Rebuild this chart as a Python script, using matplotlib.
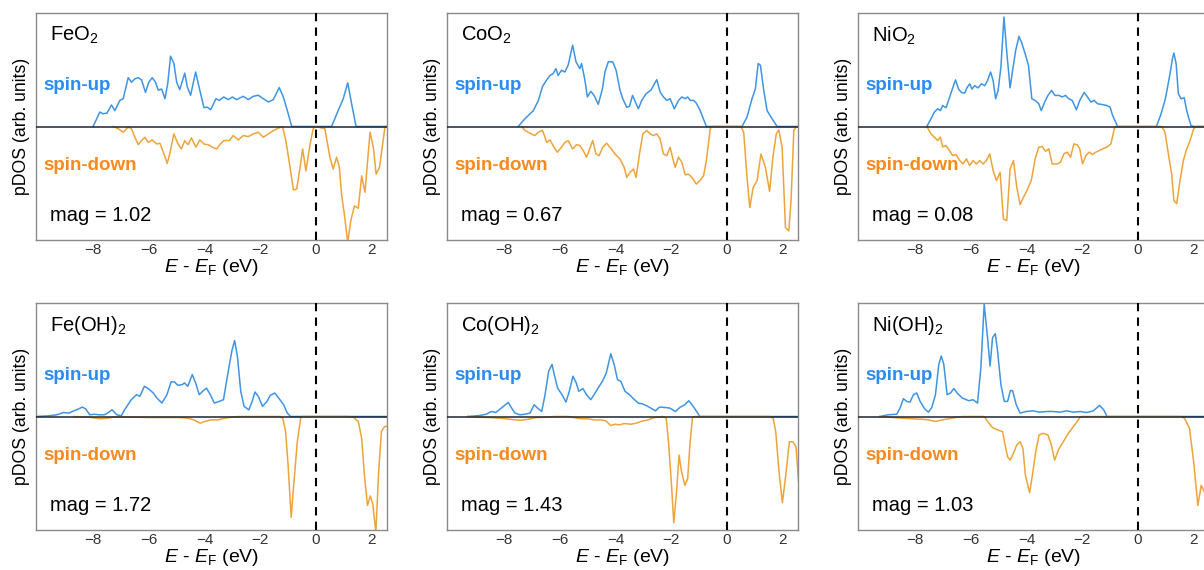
import matplotlib
matplotlib.use("Agg")
import matplotlib.pyplot as plt
import numpy as np

plt.rcParams['font.family'] = ['Liberation Sans', 'DejaVu Sans']
plt.rcParams['mathtext.fontset'] = 'custom'
plt.rcParams['mathtext.rm'] = 'Liberation Sans'
plt.rcParams['mathtext.it'] = 'Liberation Sans:italic'

# (E - E_F in eV, pDOS in arb. units), spin-down stored as negative values
feo2_up = [(-8.0, 0), (-7.76, 0.127), (-7.64, 0.112), (-7.5, 0.118), (-7.34, 0.19), (-7.22, 0.14),
           (-7.04, 0.23), (-6.92, 0.245), (-6.74, 0.43), (-6.62, 0.39), (-6.5, 0.42), (-6.38, 0.43),
           (-6.26, 0.41), (-6.12, 0.30), (-6.0, 0.39), (-5.88, 0.43), (-5.76, 0.39), (-5.66, 0.32),
           (-5.54, 0.33), (-5.42, 0.245), (-5.32, 0.38), (-5.22, 0.62), (-5.1, 0.556), (-5.0, 0.39),
           (-4.89, 0.325), (-4.71, 0.47), (-4.62, 0.35), (-4.5, 0.275), (-4.32, 0.48), (-4.17, 0.32),
           (-4.02, 0.166), (-3.9, 0.17), (-3.78, 0.148), (-3.59, 0.245), (-3.47, 0.23), (-3.31, 0.26),
           (-3.15, 0.237), (-3.0, 0.26), (-2.85, 0.237), (-2.61, 0.266), (-2.43, 0.237), (-2.25, 0.266),
           (-2.07, 0.275), (-1.89, 0.245), (-1.71, 0.216), (-1.53, 0.237), (-1.32, 0.343), (-1.17, 0.26),
           (-1.03, 0.142), (-0.87, 0), (0.56, 0), (0.8, 0.142), (0.98, 0.245), (1.14, 0.385),
           (1.28, 0.2), (1.44, 0), (2.6, 0)]
feo2_dn = [(-7.28, 0), (-7.1, -0.02), (-6.92, -0.05), (-6.74, -0.006), (-6.62, -0.02), (-6.5, -0.095),
           (-6.38, -0.16), (-6.26, -0.124), (-6.14, -0.095), (-6.02, -0.14), (-5.88, -0.118),
           (-5.72, -0.154), (-5.6, -0.148), (-5.48, -0.228), (-5.34, -0.325), (-5.25, -0.243),
           (-5.1, -0.065), (-4.95, -0.154), (-4.83, -0.198), (-4.71, -0.124), (-4.59, -0.16),
           (-4.47, -0.1), (-4.31, -0.183), (-4.17, -0.118), (-4.02, -0.154), (-3.87, -0.16),
           (-3.71, -0.183), (-3.57, -0.198), (-3.45, -0.16), (-3.31, -0.124), (-3.11, -0.124),
           (-2.97, -0.08), (-2.79, -0.118), (-2.61, -0.08), (-2.43, -0.089), (-2.25, -0.065),
           (-2.07, -0.05), (-1.89, -0.095), (-1.71, -0.065), (-1.53, -0.036), (-1.35, -0.015),
           (-1.2, 0), (-1.08, -0.124), (-0.93, -0.36), (-0.81, -0.56), (-0.69, -0.55), (-0.57, -0.36),
           (-0.48, -0.198), (-0.36, -0.39), (-0.22, -0.17), (-0.1, -0.02), (0.0, 0), (0.32, -0.02),
           (0.5, -0.27), (0.62, -0.375), (0.74, -0.27), (0.84, -0.36), (0.92, -0.6), (1.02, -0.775),
           (1.14, -1.02), (1.25, -0.83), (1.38, -0.7), (1.52, -0.72), (1.64, -0.435), (1.76, -0.58),
           (1.94, -0.05), (2.06, -0.183), (2.16, -0.42), (2.28, -0.36), (2.48, 0), (2.6, 0)]

coo2_up = [(-7.49, 0), (-7.31, 0.053), (-7.13, 0.097), (-6.95, 0.14), (-6.77, 0.23), (-6.62, 0.354),
           (-6.47, 0.41), (-6.35, 0.45), (-6.24, 0.466), (-6.14, 0.51), (-6.06, 0.45), (-5.94, 0.496),
           (-5.82, 0.48), (-5.7, 0.54), (-5.54, 0.717), (-5.42, 0.57), (-5.28, 0.51), (-5.22, 0.555),
           (-5.1, 0.41), (-5.01, 0.26), (-4.89, 0.31), (-4.77, 0.274), (-4.62, 0.195), (-4.47, 0.333),
           (-4.38, 0.48), (-4.26, 0.57), (-4.1, 0.57), (-3.98, 0.496), (-3.84, 0.32), (-3.74, 0.245),
           (-3.6, 0.17), (-3.5, 0.177), (-3.39, 0.274), (-3.26, 0.2), (-3.18, 0.156), (-3.06, 0.23),
           (-2.9, 0.29), (-2.73, 0.32), (-2.52, 0.413), (-2.4, 0.304), (-2.28, 0.26), (-2.16, 0.23),
           (-2.04, 0.245), (-1.89, 0.156), (-1.74, 0.23), (-1.62, 0.26), (-1.5, 0.245), (-1.41, 0.26),
           (-1.32, 0.23), (-1.2, 0.23), (-1.1, 0.206), (-0.96, 0.14), (-0.74, 0), (0.54, 0),
           (0.72, 0.083), (0.9, 0.245), (1.02, 0.333), (1.12, 0.555), (1.2, 0.54), (1.32, 0.32),
           (1.44, 0.14), (1.62, 0.068), (1.8, 0), (2.6, 0)]
coo2_dn = [(-7.37, 0), (-7.25, -0.035), (-7.07, -0.06), (-6.9, -0.08), (-6.77, -0.05), (-6.62, -0.035),
           (-6.47, -0.14), (-6.35, -0.118), (-6.24, -0.17), (-6.09, -0.227), (-5.94, -0.183),
           (-5.82, -0.14), (-5.7, -0.124), (-5.54, -0.198), (-5.4, -0.16), (-5.28, -0.168),
           (-5.16, -0.212), (-5.04, -0.27), (-4.95, -0.212), (-4.82, -0.124), (-4.7, -0.242),
           (-4.59, -0.257), (-4.46, -0.183), (-4.32, -0.147), (-4.2, -0.183), (-4.02, -0.242),
           (-3.84, -0.286), (-3.69, -0.36), (-3.6, -0.448), (-3.48, -0.404), (-3.36, -0.375),
           (-3.26, -0.448), (-3.14, -0.242), (-3.02, -0.065), (-2.88, -0.035), (-2.76, -0.065),
           (-2.64, -0.08), (-2.52, -0.065), (-2.4, -0.109), (-2.28, -0.242), (-2.16, -0.257),
           (-2.04, -0.183), (-1.94, -0.286), (-1.86, -0.36), (-1.74, -0.27), (-1.62, -0.316),
           (-1.5, -0.425), (-1.38, -0.42), (-1.26, -0.448), (-1.1, -0.507), (-0.98, -0.48),
           (-0.84, -0.434), (-0.74, -0.3), (-0.6, -0.02), (-0.54, 0), (0.5, 0), (0.6, -0.05),
           (0.72, -0.448), (0.82, -0.714), (0.94, -0.537), (1.08, -0.478), (1.22, -0.242),
           (1.38, -0.36), (1.53, -0.572), (1.65, -0.27), (1.77, -0.065), (1.86, -0.03), (1.98, -0.183),
           (2.1, -0.89), (2.22, -0.92), (2.3, -0.655), (2.4, -0.035), (2.5, 0), (2.6, 0)]

nio2_up = [(-7.58, 0), (-7.43, 0.068), (-7.31, 0.126), (-7.19, 0.156), (-7.09, 0.14), (-7.01, 0.185),
           (-6.89, 0.165), (-6.8, 0.23), (-6.68, 0.318), (-6.55, 0.41), (-6.44, 0.33), (-6.34, 0.3),
           (-6.22, 0.294), (-6.14, 0.34), (-6.04, 0.376), (-5.96, 0.33), (-5.86, 0.36), (-5.74, 0.34),
           (-5.62, 0.376), (-5.5, 0.36), (-5.4, 0.405), (-5.29, 0.48), (-5.2, 0.405), (-5.11, 0.244),
           (-5.02, 0.318), (-4.92, 0.524), (-4.81, 0.965), (-4.71, 0.656), (-4.59, 0.34), (-4.5, 0.494),
           (-4.39, 0.67), (-4.27, 0.794), (-4.17, 0.735), (-4.05, 0.64), (-3.93, 0.538), (-3.81, 0.244),
           (-3.69, 0.23), (-3.56, 0.2), (-3.47, 0.14), (-3.35, 0.215), (-3.23, 0.274), (-3.1, 0.318),
           (-2.98, 0.274), (-2.84, 0.274), (-2.72, 0.26), (-2.6, 0.274), (-2.48, 0.244), (-2.36, 0.23),
           (-2.21, 0.147), (-2.09, 0.23), (-1.93, 0.3), (-1.81, 0.26), (-1.69, 0.215), (-1.57, 0.23),
           (-1.45, 0.2), (-1.29, 0.194), (-1.12, 0.185), (-1.0, 0.17), (-0.91, 0.097), (-0.73, 0),
           (0.66, 0), (0.81, 0.097), (0.97, 0.23), (1.05, 0.33), (1.15, 0.465), (1.24, 0.6),
           (1.29, 0.647), (1.37, 0.553), (1.45, 0.288), (1.55, 0.244), (1.66, 0.253), (1.75, 0.14),
           (1.9, 0.009), (2.0, 0), (2.7, 0)]
nio2_dn = [(-7.58, 0), (-7.43, -0.065), (-7.31, -0.094), (-7.19, -0.124), (-7.09, -0.094), (-7.01, -0.18),
           (-6.89, -0.168), (-6.77, -0.212), (-6.65, -0.256), (-6.53, -0.247), (-6.4, -0.3),
           (-6.28, -0.33), (-6.16, -0.285), (-6.04, -0.344), (-5.92, -0.3), (-5.8, -0.33), (-5.68, -0.3),
           (-5.56, -0.33), (-5.44, -0.3), (-5.32, -0.241), (-5.2, -0.388), (-5.08, -0.476),
           (-4.95, -0.403), (-4.83, -0.815), (-4.71, -0.83), (-4.59, -0.374), (-4.47, -0.3),
           (-4.35, -0.535), (-4.23, -0.688), (-4.11, -0.624), (-3.99, -0.565), (-3.83, -0.476),
           (-3.69, -0.285), (-3.56, -0.182), (-3.44, -0.176), (-3.32, -0.218), (-3.2, -0.197),
           (-3.08, -0.33), (-2.9, -0.33), (-2.78, -0.315), (-2.66, -0.241), (-2.54, -0.226),
           (-2.42, -0.27), (-2.3, -0.153), (-2.18, -0.162), (-2.09, -0.197), (-1.99, -0.33),
           (-1.87, -0.256), (-1.75, -0.226), (-1.63, -0.247), (-1.51, -0.226), (-1.39, -0.212),
           (-1.27, -0.197), (-1.12, -0.182), (-0.97, -0.153), (-0.85, -0.02), (-0.79, 0), (0.85, 0),
           (0.97, -0.05), (1.09, -0.241), (1.21, -0.418), (1.29, -0.653), (1.39, -0.68), (1.51, -0.476),
           (1.63, -0.3), (1.73, -0.212), (1.87, -0.124), (2.0, -0.02), (2.09, 0), (2.7, 0)]

feoh2_up = [(-10.1, 0), (-9.6, 0.006), (-9.3, 0.015), (-9.06, 0.035), (-8.87, 0.03), (-8.69, 0.05),
            (-8.51, 0.068), (-8.39, 0.083), (-8.27, 0.068), (-8.12, 0.015), (-7.96, 0.02), (-7.78, 0.015),
            (-7.6, 0.015), (-7.48, 0.03), (-7.32, 0.059), (-7.15, 0.015), (-6.99, 0.006), (-6.87, 0.059),
            (-6.75, 0.104), (-6.63, 0.148), (-6.44, 0.192), (-6.32, 0.178), (-6.16, 0.266),
            (-6.02, 0.246), (-5.84, 0.207), (-5.71, 0.163), (-5.53, 0.118), (-5.35, 0.192),
            (-5.2, 0.305), (-5.08, 0.305), (-4.96, 0.275), (-4.8, 0.281), (-4.72, 0.296), (-4.6, 0.266),
            (-4.44, 0.37), (-4.32, 0.296), (-4.19, 0.192), (-4.07, 0.222), (-3.93, 0.25), (-3.79, 0.192),
            (-3.65, 0.118), (-3.47, 0.133), (-3.32, 0.148), (-3.19, 0.34), (-3.02, 0.577), (-2.92, 0.67),
            (-2.82, 0.53), (-2.7, 0.222), (-2.58, 0.089), (-2.41, 0.059), (-2.29, 0.133), (-2.19, 0.216),
            (-2.07, 0.178), (-1.92, 0.089), (-1.76, 0.133), (-1.64, 0.186), (-1.48, 0.207),
            (-1.34, 0.163), (-1.16, 0.104), (-1.03, 0.03), (-0.91, 0), (2.7, 0)]
feoh2_dn = [(-8.7, 0), (-8.15, -0.006), (-7.9, -0.015), (-7.72, -0.02), (-7.48, -0.015), (-7.23, -0.003),
            (-5.96, -0.009), (-4.92, -0.009), (-4.62, -0.015), (-4.38, -0.03), (-4.16, -0.059),
            (-3.99, -0.044), (-3.77, -0.03), (-3.53, -0.03), (-3.28, -0.015), (-3.04, -0.006),
            (-2.8, 0), (-1.28, 0), (-1.19, -0.015), (-1.09, -0.133), (-1.0, -0.43), (-0.89, -0.888),
            (-0.79, -0.577), (-0.67, -0.222), (-0.55, -0.015), (-0.49, 0), (1.09, 0), (1.34, -0.006),
            (1.52, -0.044), (1.64, -0.192), (1.74, -0.518), (1.85, -0.784), (1.95, -0.7), (2.04, -0.77),
            (2.15, -1.02), (2.25, -0.488), (2.35, -0.133), (2.46, -0.089), (2.7, -0.08)]

cooh2_up = [(-9.3, 0), (-8.88, 0.009), (-8.64, 0.02), (-8.46, 0.044), (-8.3, 0.035), (-8.1, 0.074),
            (-7.85, 0.124), (-7.73, 0.074), (-7.61, 0.03), (-7.43, 0.015), (-7.25, 0.02), (-7.07, 0.03),
            (-6.92, 0.104), (-6.8, 0.074), (-6.65, 0.044), (-6.53, 0.192), (-6.4, 0.4), (-6.28, 0.459),
            (-6.2, 0.37), (-6.08, 0.25), (-5.92, 0.192), (-5.78, 0.127), (-5.66, 0.222), (-5.53, 0.355),
            (-5.41, 0.296), (-5.32, 0.222), (-5.17, 0.246), (-5.04, 0.192), (-4.89, 0.148),
            (-4.77, 0.192), (-4.63, 0.25), (-4.47, 0.31), (-4.33, 0.385), (-4.17, 0.553), (-4.05, 0.459),
            (-3.93, 0.325), (-3.81, 0.31), (-3.66, 0.222), (-3.5, 0.192), (-3.32, 0.148), (-3.18, 0.118),
            (-3.02, 0.11), (-2.84, 0.089), (-2.69, 0.068), (-2.57, 0.05), (-2.42, 0.083), (-2.24, 0.08),
            (-2.05, 0.074), (-1.85, 0.044), (-1.69, 0.08), (-1.51, 0.104), (-1.37, 0.139),
            (-1.21, 0.089), (-1.09, 0.044), (-0.97, 0), (2.7, 0)]
cooh2_dn = [(-9.3, 0), (-9.0, -0.006), (-8.52, -0.009), (-8.16, -0.015), (-7.8, -0.024), (-7.43, -0.033),
            (-7.13, -0.024), (-6.83, -0.009), (-6.47, -0.006), (-6.2, 0), (-5.7, 0), (-5.5, -0.009),
            (-5.26, -0.02), (-5.0, -0.02), (-4.77, -0.03), (-4.53, -0.03), (-4.35, -0.038),
            (-4.17, -0.08), (-4.02, -0.068), (-3.87, -0.074), (-3.69, -0.062), (-3.44, -0.068),
            (-3.26, -0.059), (-3.08, -0.044), (-2.84, -0.03), (-2.6, -0.009), (-2.3, 0), (-2.18, -0.015),
            (-2.09, -0.25), (-1.99, -0.607), (-1.91, -0.938), (-1.81, -0.666), (-1.72, -0.34),
            (-1.63, -0.488), (-1.51, -0.607), (-1.41, -0.547), (-1.33, -0.25), (-1.24, -0.009),
            (-1.15, 0), (1.51, 0), (1.66, -0.015), (1.75, -0.133), (1.87, -0.488), (1.99, -0.76),
            (2.11, -0.518), (2.24, -0.222), (2.36, -0.222), (2.48, -0.266), (2.57, -0.577), (2.7, -0.6)]

nioh2_up = [(-9.27, 0), (-8.97, 0.015), (-8.66, 0.02), (-8.54, 0.074), (-8.42, 0.157), (-8.3, 0.133),
            (-8.18, 0.127), (-8.06, 0.192), (-7.94, 0.207), (-7.82, 0.133), (-7.66, 0.068),
            (-7.52, 0.038), (-7.4, 0.08), (-7.27, 0.192), (-7.15, 0.459), (-7.06, 0.533), (-6.97, 0.459),
            (-6.85, 0.192), (-6.73, 0.207), (-6.61, 0.246), (-6.49, 0.207), (-6.31, 0.163),
            (-6.07, 0.139), (-5.92, 0.148), (-5.76, 0.118), (-5.64, 0.429), (-5.52, 0.99), (-5.4, 0.695),
            (-5.31, 0.444), (-5.22, 0.695), (-5.12, 0.73), (-5.04, 0.577), (-4.92, 0.281), (-4.8, 0.133),
            (-4.68, 0.133), (-4.58, 0.228), (-4.5, 0.228), (-4.37, 0.104), (-4.23, 0.03), (-4.01, 0.044),
            (-3.77, 0.05), (-3.53, 0.038), (-3.29, 0.044), (-3.05, 0.044), (-2.8, 0.038), (-2.56, 0.05),
            (-2.32, 0.038), (-2.08, 0.044), (-1.84, 0.035), (-1.6, 0.05), (-1.38, 0.098), (-1.23, 0.059),
            (-1.11, 0), (2.7, 0)]
nioh2_dn = [(-9.27, 0), (-9.09, -0.003), (-8.79, -0.009), (-8.48, -0.015), (-8.12, -0.02), (-7.76, -0.024),
            (-7.52, -0.03), (-7.27, -0.044), (-7.03, -0.03), (-6.79, -0.02), (-6.49, -0.006),
            (-6.31, 0), (-5.52, 0), (-5.4, -0.044), (-5.22, -0.098), (-4.98, -0.124), (-4.86, -0.133),
            (-4.77, -0.25), (-4.68, -0.355), (-4.59, -0.385), (-4.47, -0.325), (-4.35, -0.25),
            (-4.23, -0.222), (-4.13, -0.281), (-4.04, -0.518), (-3.89, -0.672), (-3.79, -0.518),
            (-3.67, -0.31), (-3.55, -0.163), (-3.41, -0.148), (-3.23, -0.163), (-3.11, -0.25),
            (-2.99, -0.385), (-2.86, -0.296), (-2.74, -0.246), (-2.62, -0.198), (-2.5, -0.148),
            (-2.32, -0.089), (-2.14, -0.03), (-2.08, -0.006), (-2.02, 0), (1.52, 0), (1.67, -0.015),
            (1.85, -0.104), (2.0, -0.4), (2.15, -0.784), (2.27, -0.607), (2.39, -0.666), (2.51, -0.34),
            (2.7, -0.2)]

names = ['FeO$_2$', 'CoO$_2$', 'NiO$_2$', 'Fe(OH)$_2$', 'Co(OH)$_2$', 'Ni(OH)$_2$']
mags = [1.02, 0.67, 0.08, 1.72, 1.43, 1.03]
spin_up = [feo2_up, coo2_up, nio2_up, feoh2_up, cooh2_up, nioh2_up]
spin_dn = [feo2_dn, coo2_dn, nio2_dn, feoh2_dn, cooh2_dn, nioh2_dn]

UP_LINE, DN_LINE = '#3f95e3', '#eea43a'
UP_TEXT, DN_TEXT = '#2b8cf0', '#f68a1e'

W, H = 1204, 570
fig = plt.figure(figsize=(W / 100, H / 100), dpi=100)

# pixel boxes of the panels; the last column runs past the right edge
col_left = [36, 447, 858]
col_width = 351
row_top = [13, 303]
row_height = 227

for i in range(6):
    r, c = divmod(i, 3)
    ax = fig.add_axes([col_left[c] / W, (H - row_top[r] - row_height) / H,
                       col_width / W, row_height / H])
    up = np.array(spin_up[i])
    dn = np.array(spin_dn[i])
    ax.plot(up[:, 0], up[:, 1], color=UP_LINE, lw=1.1)
    ax.plot(dn[:, 0], dn[:, 1], color=DN_LINE, lw=1.1)
    ax.axhline(0, color='#1c2533', lw=1.1, zorder=3)
    ax.axvline(0, color='black', lw=1.5, ls=(0, (4, 3)), zorder=4)

    ax.set_xlim(-10.05, 2.55)
    ax.set_ylim(-1, 1)
    ax.set_xticks([-8, -6, -4, -2, 0, 2])
    ax.set_xticklabels(['\u22128', '\u22126', '\u22124', '\u22122', '0', '2'])
    ax.set_yticks([])
    ax.tick_params(axis='x', length=0, pad=2, labelsize=11, labelcolor='#333333')
    for s in ax.spines.values():
        s.set_color('#8a8a8a')
        s.set_linewidth(1.0)

    ax.set_xlabel('$E$ - $E_\\mathrm{F}$ (eV)', fontsize=14, labelpad=0)
    ax.set_ylabel('pDOS (arb. units)', fontsize=12.7, labelpad=4)

    ax.text(0.04, 0.90, names[i], transform=ax.transAxes, fontsize=14.5, va='center', ha='left')
    ax.text(0.02, 0.68, 'spin-up', transform=ax.transAxes, fontsize=13.5, fontweight='bold',
            color=UP_TEXT, va='center', ha='left')
    ax.text(0.02, 0.33, 'spin-down', transform=ax.transAxes, fontsize=13.5, fontweight='bold',
            color=DN_TEXT, va='center', ha='left')
    ax.text(0.04, 0.11, 'mag = %.2f' % mags[i], transform=ax.transAxes, fontsize=14.5,
            va='center', ha='left')

fig.savefig('out.png', dpi=100)
